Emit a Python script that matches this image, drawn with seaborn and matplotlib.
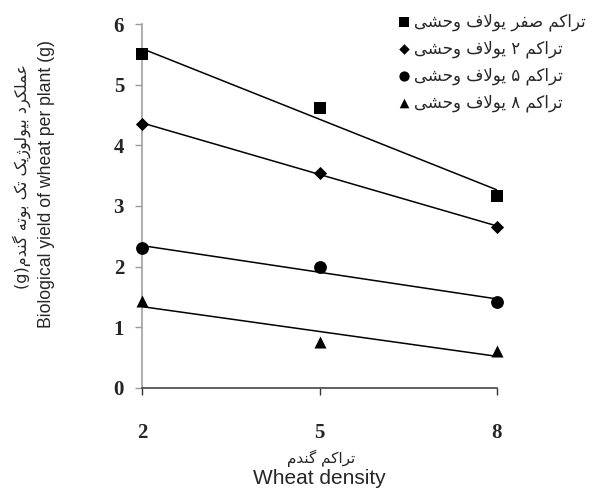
import matplotlib
matplotlib.use("Agg")
import matplotlib.pyplot as plt
import seaborn as sns
import pandas as pd

# ---------------- data ----------------
density = [2, 5, 8]
oat_0 = [5.50, 4.62, 3.17]
oat_2 = [4.36, 3.54, 2.66]
oat_5 = [2.30, 2.00, 1.42]
oat_8 = [1.43, 0.75, 0.61]
series_labels = ["تراکم صفر یولاف وحشی", "تراکم ۲ یولاف وحشی",
                 "تراکم ۵ یولاف وحشی", "تراکم ۸ یولاف وحشی"]
x_ticks = [2, 5, 8]
y_ticks = [0, 1, 2, 3, 4, 5, 6]
xlabel_fa = "تراکم گندم"
xlabel_en = "Wheat density"
ylabel_fa = "عملکرد بیولوژیک تک بوته گندم"
ylabel_en = "Biological yield of wheat per plant (g)"

# ------------- minimal Persian shaping (RTL + joining forms) -------------
FORMS = {  # isolated, final, initial, medial
    "ا": ("\uFE8D", "\uFE8E", None, None),
    "ب": ("\uFE8F", "\uFE90", "\uFE91", "\uFE92"),
    "ت": ("\uFE95", "\uFE96", "\uFE97", "\uFE98"),
    "ح": ("\uFEA1", "\uFEA2", "\uFEA3", "\uFEA4"),
    "د": ("\uFEA9", "\uFEAA", None, None),
    "ر": ("\uFEAD", "\uFEAE", None, None),
    "ز": ("\uFEAF", "\uFEB0", None, None),
    "ژ": ("\uFB8A", "\uFB8B", None, None),
    "ش": ("\uFEB5", "\uFEB6", "\uFEB7", "\uFEB8"),
    "ص": ("\uFEB9", "\uFEBA", "\uFEBB", "\uFEBC"),
    "ع": ("\uFEC9", "\uFECA", "\uFECB", "\uFECC"),
    "ف": ("\uFED1", "\uFED2", "\uFED3", "\uFED4"),
    "ک": ("\uFB8E", "\uFB8F", "\uFB90", "\uFB91"),
    "گ": ("\uFB92", "\uFB93", "\uFB94", "\uFB95"),
    "ل": ("\uFEDD", "\uFEDE", "\uFEDF", "\uFEE0"),
    "م": ("\uFEE1", "\uFEE2", "\uFEE3", "\uFEE4"),
    "ن": ("\uFEE5", "\uFEE6", "\uFEE7", "\uFEE8"),
    "ه": ("\uFEE9", "\uFEEA", "\uFEEB", "\uFEEC"),
    "و": ("\uFEED", "\uFEEE", None, None),
    "ی": ("\uFBFC", "\uFBFD", "\uFBFE", "\uFBFF"),
}


def dual(c):
    return c in FORMS and FORMS[c][2] is not None


def shape_fa(text):
    out = []
    i = 0
    n = len(text)
    while i < n:
        c = text[i]
        if c not in FORMS:
            out.append(c)
            i += 1
            continue
        prev_join = i > 0 and dual(text[i - 1])
        if c == "ل" and i + 1 < n and text[i + 1] == "ا":
            out.append("\uFEFC" if prev_join else "\uFEFB")
            i += 2
            continue
        next_join = dual(c) and i + 1 < n and text[i + 1] in FORMS
        iso, fin, ini, med = FORMS[c]
        if prev_join and next_join:
            out.append(med)
        elif prev_join:
            out.append(fin)
        elif next_join:
            out.append(ini)
        else:
            out.append(iso)
        i += 1
    return "".join(reversed(out))


# ---------------- figure ----------------
sns.set_style("white")
plt.rcParams["font.family"] = ["DejaVu Sans"]

fig = plt.figure(figsize=(5.92, 4.91), dpi=100)
ax = fig.add_axes([0.24, 0.21, 0.5995, 0.741])

all_series = [oat_0, oat_2, oat_5, oat_8]
markers = ["s", "D", "o", "^"]
msizes = [70, 45, 85, 75]
for vals, mk, ms, lab in zip(all_series, markers, msizes, series_labels):
    df = pd.DataFrame({"density": density, "yield": vals})
    sns.regplot(data=df, x="density", y="yield", ax=ax, ci=None,
                truncate=True, marker=mk, label=shape_fa(lab),
                scatter_kws={"s": ms, "color": "black", "linewidths": 0,
                             "alpha": 1, "zorder": 3, "clip_on": False},
                line_kws={"color": "black", "linewidth": 1.1, "zorder": 2})

ax.set_xlim(2, 8)
ax.set_ylim(0, 6)
ax.set_xticks(x_ticks)
ax.set_yticks(y_ticks)
ax.set_xlabel("")
ax.set_ylabel("")

for lab in ax.get_xticklabels() + ax.get_yticklabels():
    lab.set_fontfamily("Liberation Serif")
    lab.set_fontweight("bold")
    lab.set_fontsize(15)

ax.tick_params(axis="x", direction="out", length=5, width=1, color="#333333",
               pad=20, bottom=True)
ax.tick_params(axis="y", direction="out", length=5, width=1, color="#999999",
               pad=8, left=True)

for s in ["top", "right"]:
    ax.spines[s].set_visible(False)
ax.spines["left"].set_color("#a0a0a0")
ax.spines["left"].set_linewidth(1.2)
ax.spines["bottom"].set_color("#444444")
ax.spines["bottom"].set_linewidth(1.2)

# axis titles
fig.text(0.542, 0.066, shape_fa(xlabel_fa), ha="center", va="center",
         fontsize=11, family="DejaVu Sans")
fig.text(0.540, 0.006, xlabel_en, ha="center", va="bottom",
         fontsize=15, family="Liberation Sans")
fig.text(0.037, 0.640, "(g)" + shape_fa(ylabel_fa), ha="center", va="center",
         rotation=90, fontsize=11.5, family="DejaVu Sans")
fig.text(0.078, 0.625, ylabel_en, ha="center", va="center",
         rotation=90, fontsize=12.7, family="Liberation Sans")

leg = ax.legend(loc="upper left", bbox_to_anchor=(0.66, 0.988),
                bbox_transform=fig.transFigure, frameon=False,
                fontsize=12, labelspacing=0.5, handletextpad=0.2,
                handlelength=0.8, borderaxespad=0, markerscale=0.8)

fig.savefig("out.png", dpi=100)
